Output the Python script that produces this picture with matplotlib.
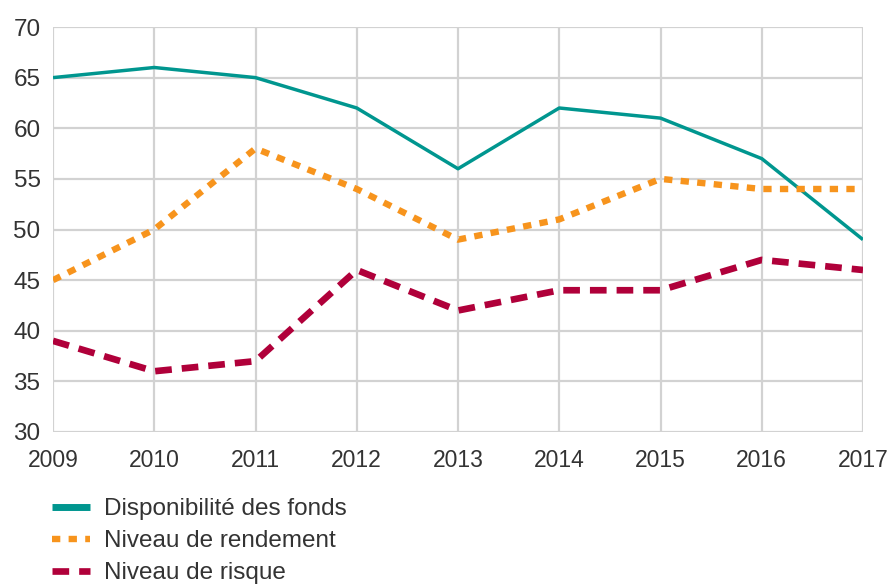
import matplotlib.pyplot as plt
from matplotlib.lines import Line2D

plt.rcParams["font.family"] = ["Liberation Sans Narrow", "Liberation Sans", "DejaVu Sans"]

years = [2009, 2010, 2011, 2012, 2013, 2014, 2015, 2016, 2017]
disponibilite = [65, 66, 65, 62, 56, 62, 61, 57, 49]
rendement = [45, 50, 58, 54, 49, 51, 55, 54, 54]
risque = [39, 36, 37, 46, 42, 44, 44, 47, 46]

labels = ["Disponibilité des fonds", "Niveau de rendement", "Niveau de risque"]
TEAL = "#00968f"
ORANGE = "#f7941d"
RED = "#b0003a"
TXT = "#333333"

fig = plt.figure(figsize=(8.88, 5.84), dpi=100)
ax = fig.add_axes([53 / 888, 1 - 432 / 584, 810 / 888, 405 / 584])

ax.plot(years, disponibilite, color=TEAL, linewidth=2.5, solid_capstyle="butt", zorder=3)
ax.plot(years, rendement, color=ORANGE, linewidth=4.6, dashes=(1.3, 1.3), zorder=3)
ax.plot(years, risque, color=RED, linewidth=4.8, dashes=(2.5, 1.5), zorder=3)

ax.set_xlim(2009, 2017)
ax.set_ylim(30, 70)
ax.set_xticks(years)
ax.set_yticks(range(30, 71, 5))
ax.grid(True, color="#d2d2d2", linewidth=1.6)
ax.set_axisbelow(True)
for s in ax.spines.values():
    s.set_visible(False)
ax.tick_params(length=0, colors=TXT)
ax.tick_params(axis="x", pad=12, labelsize=16.5)
ax.tick_params(axis="y", pad=9, labelsize=17.5)

handles = [
    Line2D([], [], color=TEAL, linewidth=5, solid_capstyle="butt"),
    Line2D([], [], color=ORANGE, linewidth=4.6, dashes=(1.3, 1.3)),
    Line2D([], [], color=RED, linewidth=4.8, dashes=(2.5, 1.5)),
]
leg = fig.legend(handles, labels, loc="upper left", bbox_to_anchor=(52 / 888, 1 - 498 / 584),
                 frameon=False, fontsize=17.5, handlelength=1.55, handletextpad=0.6,
                 labelspacing=0.42, borderpad=0, borderaxespad=0)
for t in leg.get_texts():
    t.set_color(TXT)

fig.savefig("out.png", dpi=100)
